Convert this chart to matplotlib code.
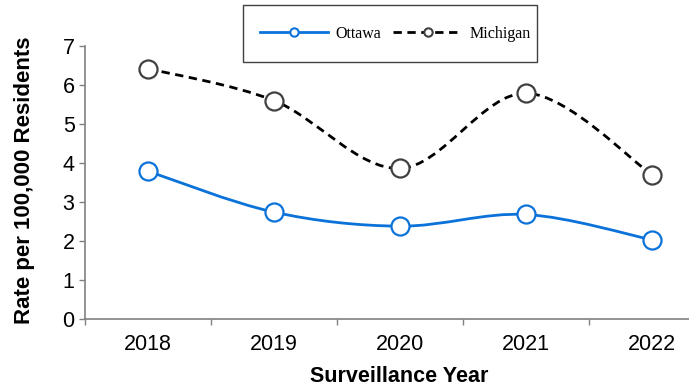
import numpy as np
import matplotlib
matplotlib.use("Agg")
import matplotlib.pyplot as plt
from matplotlib.path import Path
from matplotlib.patches import PathPatch, Rectangle
from matplotlib.lines import Line2D

years = ["2018", "2019", "2020", "2021", "2022"]
ottawa = [3.79, 2.74, 2.38, 2.68, 2.03]
michigan = [6.42, 5.60, 3.86, 5.79, 3.70]

OTTAWA_BLUE = "#0B72D9"
MICH_EDGE = "#404040"

W, H = 689, 386


def smooth_path(x, y):
    """Catmull-Rom style bezier through the points (like a spreadsheet 'smoothed line')."""
    pts = np.column_stack([x, y]).astype(float)
    n = len(pts)
    verts = [pts[0]]
    codes = [Path.MOVETO]
    for i in range(n - 1):
        p0 = pts[i - 1] if i > 0 else pts[i]
        p1 = pts[i]
        p2 = pts[i + 1]
        p3 = pts[i + 2] if i + 2 < n else pts[i + 1]
        c1 = p1 + (p2 - p0) / 6.0
        c2 = p2 - (p3 - p1) / 6.0
        verts += [c1, c2, p2]
        codes += [Path.CURVE4] * 3
    return Path(verts, codes)


plt.rcParams["font.family"] = ["Liberation Sans", "DejaVu Sans"]

fig = plt.figure(figsize=(W / 100, H / 100), dpi=100)
ax = fig.add_axes([85 / W, 67 / H, 630 / W, 273 / H])

xs = np.arange(len(years))

ax.add_patch(PathPatch(smooth_path(xs, michigan), fill=False, edgecolor="black",
                       lw=2.0, linestyle=(0, (3, 2)), zorder=2))
ax.add_patch(PathPatch(smooth_path(xs, ottawa), fill=False, edgecolor=OTTAWA_BLUE,
                       lw=2.0, zorder=2))
ax.plot(xs, michigan, linestyle="none", marker="o", ms=13, mfc="white",
        mec=MICH_EDGE, mew=1.6, zorder=3)
ax.plot(xs, ottawa, linestyle="none", marker="o", ms=13, mfc="white",
        mec=OTTAWA_BLUE, mew=1.6, zorder=3)

ax.set_xlim(-0.5, len(years) - 0.5)
ax.set_ylim(0, 7)
ax.set_yticks(range(0, 8))
ax.set_xticks(xs)
ax.set_xticklabels(years)
ax.set_xticks(np.arange(-0.5, len(years)), minor=True)
ax.tick_params(axis="x", which="major", length=0, labelsize=15.5, pad=11)
ax.tick_params(axis="x", which="minor", length=4.5, width=1, color="#808080", direction="out")
ax.tick_params(axis="y", length=4.5, width=1, color="#808080", labelsize=15.5, pad=3)

for s in ["top", "right"]:
    ax.spines[s].set_visible(False)
for s in ["left", "bottom"]:
    ax.spines[s].set_color("#808080")
    ax.spines[s].set_linewidth(1.2)

fig.text(25 / W, 1 - 180 / H, "Rate per 100,000 Residents", fontsize=16,
         fontweight="bold", rotation=90, ha="center", va="center")
fig.text(399 / W, 1 - 376 / H, "Surveillance Year", fontsize=15.5, fontweight="bold",
         ha="center", va="center")

# legend box drawn separately so its padding can be uneven
fig.patches.append(Rectangle((243 / W, 1 - 62 / H), 294 / W, 57 / H,
                             transform=fig.transFigure, fill=False,
                             edgecolor="#404040", lw=1.0, zorder=5))

handles = [
    Line2D([], [], color=OTTAWA_BLUE, lw=2.0, marker="o", ms=6, mfc="white",
           mec=OTTAWA_BLUE, mew=1.5),
    Line2D([], [], color="black", lw=2.0, linestyle=(0, (3, 2)), marker="o", ms=6,
           mfc="white", mec=MICH_EDGE, mew=1.5),
]
leg = fig.legend(handles, ["Ottawa", "Michigan"], loc="center",
                 bbox_to_anchor=(395 / W, 1 - 33.5 / H), ncol=2, frameon=False,
                 handlelength=4.3, columnspacing=0.75, handletextpad=0.45,
                 borderpad=0.0, prop={"family": "Liberation Serif", "size": 11.5})

fig.savefig("out.png", dpi=100)
